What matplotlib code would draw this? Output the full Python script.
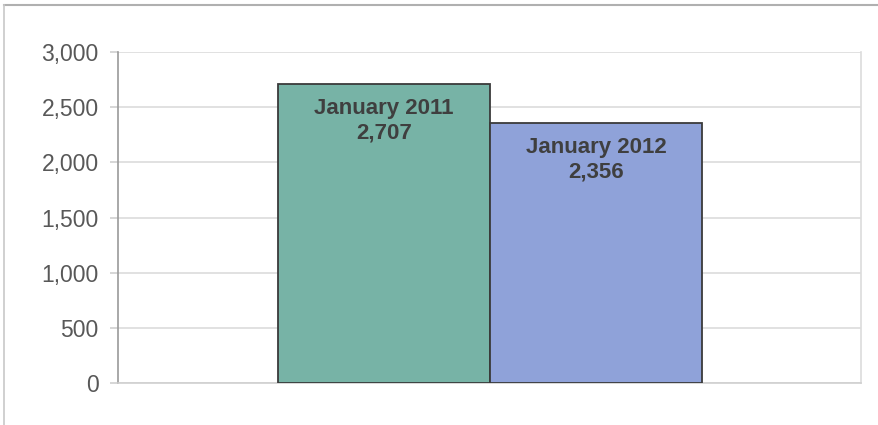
import matplotlib.pyplot as plt
from matplotlib.ticker import FuncFormatter

# datos
periods = ['January 2011', 'January 2012']
values = [2707, 2356]
colors = ['#77b3a6', '#8fa2d9']

plt.rcParams['font.family'] = ['Liberation Sans', 'DejaVu Sans']

fig = plt.figure(figsize=(8.79, 4.25), dpi=100)
ax = fig.add_axes([0.1342, 0.0988, 0.8453, 0.7788])

x = list(range(len(values)))
bars = ax.bar(x, values, width=1.0, color=colors, edgecolor='#3a3a3a', linewidth=1.3, zorder=3)

# etiquetas dentro de las barras
for b, name, v in zip(bars, periods, values):
    ax.annotate(f'{name}\n{v:,}', (b.get_x() + b.get_width() / 2, v),
                xytext=(0, -10), textcoords='offset points',
                ha='center', va='top', fontsize=16, fontweight='bold',
                color='#3f3f3f', linespacing=1.2, zorder=4)

ax.set_xlim(-1.2547, 2.25)
ax.set_ylim(0, 3000)
ax.set_yticks(range(0, 3001, 500))
ax.yaxis.set_major_formatter(FuncFormatter(lambda v, p: f'{int(v):,}'))
ax.set_xticks([])

ax.grid(axis='y', color='#dcdcdc', linewidth=1.2, zorder=0)
ax.tick_params(axis='y', labelsize=16.5, labelcolor='#585858', color='#cfcfcf',
               length=6, width=1.2, pad=8)

ax.spines['top'].set_visible(False)
ax.spines['left'].set_color('#9a9a9a')
ax.spines['left'].set_linewidth(1.2)
ax.spines['bottom'].set_color('#cfcfcf')
ax.spines['bottom'].set_linewidth(1.2)
ax.spines['right'].set_color('#dcdcdc')
ax.spines['right'].set_linewidth(1.2)

# marco exterior (solo arriba e izquierda visibles)
fig.add_artist(plt.Line2D([4 / 879, 1], [1 - 5 / 425, 1 - 5 / 425], transform=fig.transFigure,
                          color='#b0b0b0', linewidth=1.5))
fig.add_artist(plt.Line2D([4 / 879, 4 / 879], [0, 1 - 5 / 425], transform=fig.transFigure,
                          color='#c8c8c8', linewidth=1.2))

fig.savefig('out.png', dpi=100)
